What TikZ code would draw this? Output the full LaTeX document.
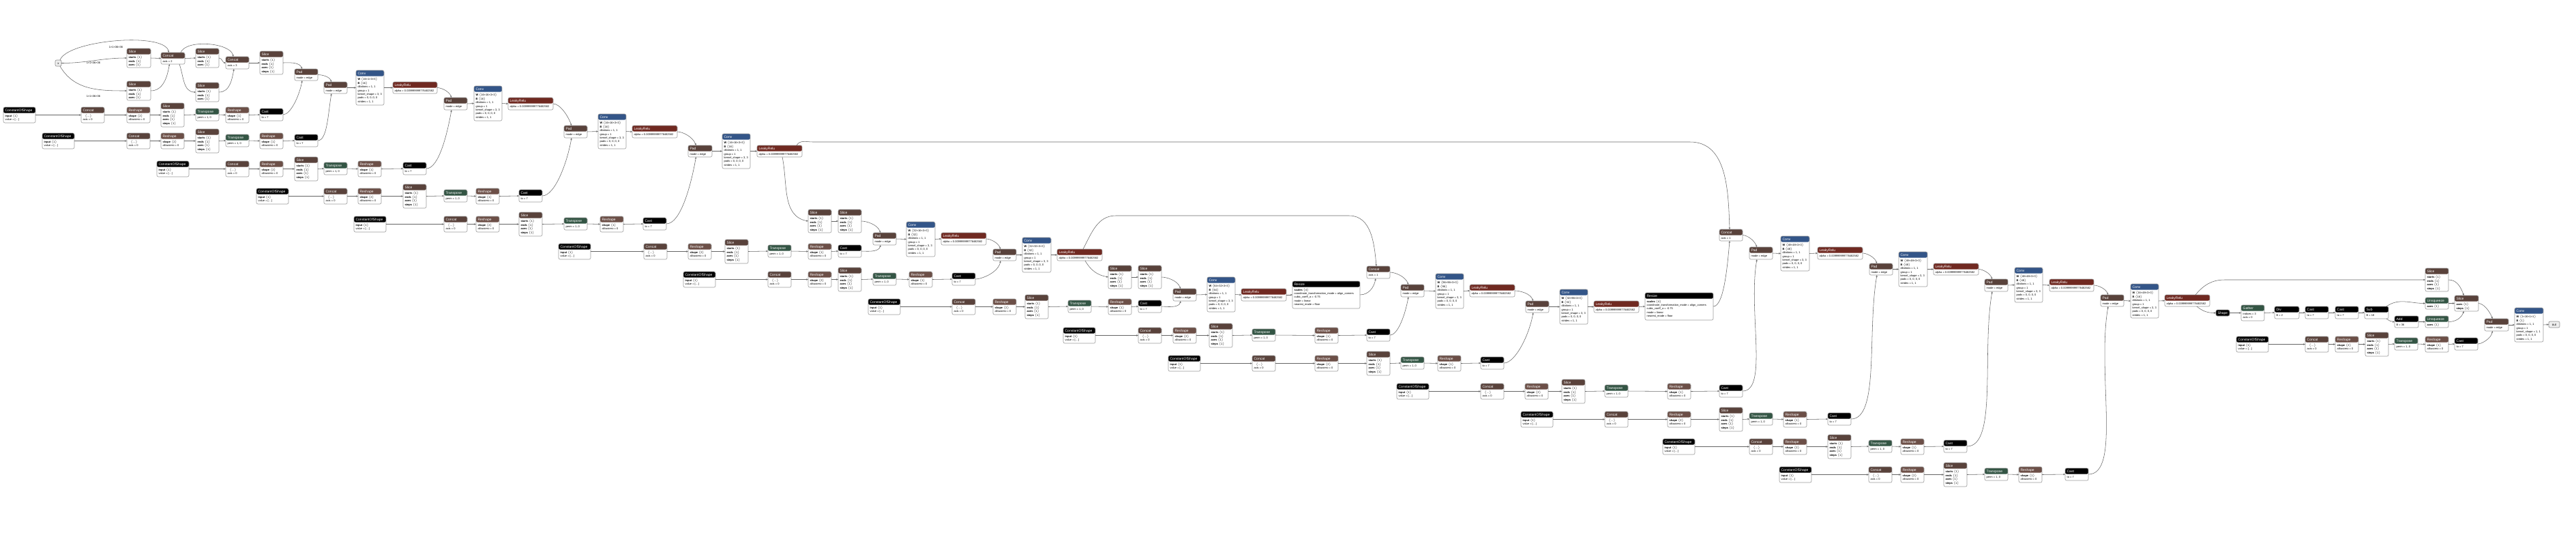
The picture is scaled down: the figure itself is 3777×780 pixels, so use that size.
\documentclass[tikz,border=0pt]{standalone}
\usepackage{fontspec}
\setmainfont{Liberation Sans}
\usetikzlibrary{arrows.meta}
\definecolor{cLayer}{RGB}{51,85,136}
\definecolor{cAct}{RGB}{112,41,33}
\definecolor{cTensor}{RGB}{89,66,59}
\definecolor{cShape}{RGB}{108,79,71}
\definecolor{cTrans}{RGB}{51,85,68}
\definecolor{cIO}{RGB}{238,238,238}
\newcommand\lan{\ensuremath{\langle}}
\newcommand\ran{\ensuremath{\rangle}}
\newcommand\slthree{\textbf{starts} \lan1\ran\\\textbf{ends} \lan1\ran\\\textbf{axes} \lan1\ran}
\newcommand\slfour{\slthree\\\textbf{steps} \lan1\ran}
\newcommand\alphatxt{alpha = 0.009999999776482582}
\newcommand\convtxt[3]{\textbf{W} \lan#1\ran\\\textbf{B} \lan#2\ran\\dilations = 1, 1\\group = 1\\kernel\_shape = #3\\pads = 0, 0, 0, 0\\strides = 1, 1}
\newcommand\resizetxt{\textbf{scales} \lan4\ran\\coordinate\_transformation\_mode = align\_corners\\cubic\_coeff\_a = -0.75\\mode = linear\\nearest\_mode = floor}
\tikzset{
  opbox/.style={draw=black!40, line width=0.6pt, rounded corners=2.2pt, fill=white, inner sep=0pt, outer sep=0pt},
  iobox/.style={draw=black!45, line width=0.6pt, rounded corners=2pt, fill=cIO, inner sep=0pt, outer sep=0pt},
  hdr/.style={path picture={\fill[#1] (path picture bounding box.north west) rectangle ([yshift=-8.5pt]path picture bounding box.north east);}},
  optitle/.style={anchor=base west, inner sep=0pt, text=white, font=\fontsize{5}{6}\selectfont},
  opbody/.style={anchor=north west, inner sep=0pt, align=left, font=\fontsize{4}{5.3}\selectfont},
  edge/.style={draw=black!60, line width=0.55pt, -{Stealth[length=3pt,width=2.4pt]}},
  elabel/.style={font=\fontsize{4}{5}\selectfont, inner sep=0pt},
}
\newcommand\opnode[8]{%
  \pgfmathsetmacro\opw{(#4)-(#2)}\pgfmathsetmacro\oph{(#5)-(#3)}%
  \node[opbox, hdr=#6, minimum width=\opw pt, minimum height=\oph pt] (#1) at ({((#2)+(#4))/2},{((#3)+(#5))/2}) {};
  \node[optitle] (#1-t) at ([xshift=2.4pt,yshift=-6.1pt]#1.north west) {#7};
  \node[opbody] (#1-b) at ([xshift=2.4pt,yshift=-10.3pt]#1.north west) {\strut #8};
}
\newcommand\hnode[7]{%
  \pgfmathsetmacro\opw{(#4)-(#2)}\pgfmathsetmacro\oph{(#5)-(#3)}%
  \node[opbox, fill=#6, minimum width=\opw pt, minimum height=\oph pt] (#1) at ({((#2)+(#4))/2},{((#3)+(#5))/2}) {};
  \node[optitle, anchor=base] (#1-t) at ([yshift=-1.8pt]#1.center) {#7};
}
\newcommand\ionode[6]{%
  \pgfmathsetmacro\opw{(#4)-(#2)}\pgfmathsetmacro\oph{(#5)-(#3)}%
  \node[iobox, minimum width=\opw pt, minimum height=\oph pt] (#1) at ({((#2)+(#4))/2},{((#3)+(#5))/2}) {};
  \node[inner sep=0pt, anchor=base, font=\fontsize{4.5}{5}\selectfont] (#1-t) at ([yshift=-1.6pt]#1.center) {#6};
}
\newcommand\eSt[2]{\draw[edge] (#1.east) -- (#2.west);}
\newcommand\eDn[2]{\draw[edge] (#1.east) to[out=0,in=110,out looseness=0.6] ([xshift=-6pt]#2.north);}
\newcommand\eUp[2]{\draw[edge] (#1.east) to[out=0,in=-100,out looseness=0.5,in looseness=1] ([xshift=-6pt]#2.south);}
% chain: id, top y, x of ConstantOfShape, Concat, Reshape, Slice, Transpose, Reshape, Cast
\newcommand\chain[9]{%
  \opnode{#1cos}{#3}{#2}{#3+47}{#2+23}{black}{ConstantOfShape}{\textbf{input} \lan1\ran\\value = [\ldots]}
  \opnode{#1cc}{#4}{#2}{#4+34}{#2+23}{cTensor}{Concat}{\hspace{3pt}\lan\ldots\ran\\axis = 0}
  \opnode{#1r1}{#5}{#2}{#5+34}{#2+23}{cShape}{Reshape}{\textbf{shape} \lan2\ran\\allowzero = 0}
  \opnode{#1s}{#6}{#2-6}{#6+34}{#2+29}{cTensor}{Slice}{\slfour}
  \opnode{#1t}{#7}{#2+2}{#7+34}{#2+20}{cTrans}{Transpose}{perm = 1, 0}
  \opnode{#1r2}{#8}{#2}{#8+34}{#2+23}{cShape}{Reshape}{\textbf{shape} \lan1\ran\\allowzero = 0}
  \opnode{#1ca}{#9}{#2+2}{#9+34}{#2+20}{black}{Cast}{to = 7}
  \eSt{#1cos}{#1cc}\eSt{#1cc}{#1r1}\eSt{#1r1}{#1s}\eSt{#1s}{#1t}\eSt{#1t}{#1r2}\eSt{#1r2}{#1ca}
}
\begin{document}
\begin{tikzpicture}[x=1pt,y=-1pt]
\fill[white] (0,0) rectangle (3777,780);
\useasboundingbox (0,0) rectangle (3777,780);
% ---------- input block ----------
\ionode{x}{81}{88}{90}{97}{x}
\opnode{sA}{186}{71}{221}{99}{cTensor}{Slice}{\slthree}
\opnode{sB}{186}{119}{221}{147}{cTensor}{Slice}{\slthree}
\opnode{cA}{236}{77}{271}{94}{cTensor}{Concat}{axis = 2}
\opnode{sC}{287}{71}{321}{99}{cTensor}{Slice}{\slthree}
\opnode{sD}{287}{121}{321}{149}{cTensor}{Slice}{\slthree}
\opnode{cB}{331}{83}{365}{101}{cTensor}{Concat}{axis = 3}
\opnode{sE}{381}{75}{415}{109}{cTensor}{Slice}{\slfour}
% ---------- main chain ----------
\opnode{pad1}{432}{101}{466}{118}{cTensor}{Pad}{mode = edge}
\opnode{pad2}{475}{120}{509}{137}{cTensor}{Pad}{mode = edge}
\opnode{conv1}{522}{103}{563}{154}{cLayer}{Conv}{\convtxt{16×1×3×3}{16}{3, 3}}
\opnode{lr1}{576}{120}{641}{137}{cAct}{LeakyRelu}{\alphatxt}
\opnode{pad3}{651}{143}{685}{161}{cTensor}{Pad}{mode = edge}
\opnode{conv2}{695}{126}{736}{177}{cLayer}{Conv}{\convtxt{16×16×3×3}{16}{3, 3}}
\opnode{lr2}{745}{143}{811}{161}{cAct}{LeakyRelu}{\alphatxt}
\opnode{pad4}{827}{184}{861}{202}{cTensor}{Pad}{mode = edge}
\opnode{conv3}{877}{167}{918}{218}{cLayer}{Conv}{\convtxt{16×16×3×3}{16}{3, 3}}
\opnode{lr3}{927}{184}{993}{202}{cAct}{LeakyRelu}{\alphatxt}
\opnode{pad5}{1009}{213}{1044}{230}{cTensor}{Pad}{mode = edge}
\opnode{conv4}{1059}{196}{1100}{247}{cLayer}{Conv}{\convtxt{16×16×3×3}{16}{3, 3}}
\opnode{lr4}{1110}{213}{1176}{230}{cAct}{LeakyRelu}{\alphatxt}
\opnode{s6}{1185}{307}{1219}{341}{cTensor}{Slice}{\slfour}
\opnode{s7}{1229}{307}{1263}{341}{cTensor}{Slice}{\slfour}
\opnode{pad6}{1280}{341}{1314}{359}{cTensor}{Pad}{mode = edge}
\opnode{conv5}{1329}{325}{1371}{376}{cLayer}{Conv}{\convtxt{32×16×3×3}{32}{3, 3}}
\opnode{lr5}{1380}{341}{1446}{359}{cAct}{LeakyRelu}{\alphatxt}
\opnode{pad7}{1456}{365}{1490}{382}{cTensor}{Pad}{mode = edge}
\opnode{conv6}{1499}{348}{1541}{399}{cLayer}{Conv}{\convtxt{32×32×3×3}{32}{3, 3}}
\opnode{lr6}{1550}{365}{1616}{382}{cAct}{LeakyRelu}{\alphatxt}
\opnode{s8}{1625}{389}{1659}{423}{cTensor}{Slice}{\slfour}
\opnode{s9}{1669}{389}{1703}{423}{cTensor}{Slice}{\slfour}
\opnode{pad8}{1720}{423}{1754}{441}{cTensor}{Pad}{mode = edge}
\opnode{conv7}{1770}{406}{1811}{457}{cLayer}{Conv}{\convtxt{64×32×3×3}{64}{3, 3}}
\opnode{lr7}{1820}{423}{1886}{441}{cAct}{LeakyRelu}{\alphatxt}
\opnode{rs1}{1895}{412}{1994}{452}{black}{Resize}{\resizetxt}
\opnode{cc1}{2004}{390}{2038}{408}{cTensor}{Concat}{axis = 1}
\opnode{pad9}{2054}{417}{2088}{435}{cTensor}{Pad}{mode = edge}
\opnode{conv8}{2105}{401}{2146}{452}{cLayer}{Conv}{\convtxt{96×96×3×3}{96}{3, 3}}
\opnode{lr8}{2155}{417}{2221}{435}{cAct}{LeakyRelu}{\alphatxt}
\opnode{pad10}{2237}{441}{2271}{458}{cTensor}{Pad}{mode = edge}
\opnode{conv9}{2287}{424}{2328}{475}{cLayer}{Conv}{\convtxt{32×96×3×3}{32}{3, 3}}
\opnode{lr9}{2337}{441}{2403}{458}{cAct}{LeakyRelu}{\alphatxt}
\opnode{rs2}{2412}{429}{2512}{469}{black}{Resize}{\resizetxt}
\opnode{cc2}{2521}{336}{2555}{353}{cTensor}{Concat}{axis = 1}
\opnode{pad11}{2565}{362}{2599}{380}{cTensor}{Pad}{mode = edge}
\opnode{conv10}{2611}{346}{2653}{397}{cLayer}{Conv}{\convtxt{48×48×3×3}{48}{3, 3}}
\opnode{lr10}{2665}{362}{2731}{380}{cAct}{LeakyRelu}{\alphatxt}
\opnode{pad12}{2741}{386}{2775}{403}{cTensor}{Pad}{mode = edge}
\opnode{conv11}{2784}{369}{2826}{420}{cLayer}{Conv}{\convtxt{48×48×3×3}{48}{3, 3}}
\opnode{lr11}{2835}{386}{2901}{403}{cAct}{LeakyRelu}{\alphatxt}
\opnode{pad13}{2910}{409}{2944}{427}{cTensor}{Pad}{mode = edge}
\opnode{conv12}{2954}{392}{2995}{443}{cLayer}{Conv}{\convtxt{48×48×3×3}{48}{3, 3}}
\opnode{lr12}{3005}{409}{3070}{427}{cAct}{LeakyRelu}{\alphatxt}
\opnode{pad14}{3080}{432}{3114}{449}{cTensor}{Pad}{mode = edge}
\opnode{conv13}{3124}{416}{3165}{466}{cLayer}{Conv}{\convtxt{16×48×3×3}{16}{3, 3}}
\opnode{lr13}{3174}{432}{3240}{449}{cAct}{LeakyRelu}{\alphatxt}
\hnode{shape}{3249}{454}{3269}{463}{black}{Shape}
\opnode{gather}{3286}{447}{3320}{470}{cTrans}{Gather}{indices = 3\\axis = 0}
\opnode{div}{3335}{449}{3371}{467}{black}{Div}{B = 2}
\opnode{cast1}{3380}{449}{3414}{467}{black}{Cast}{to = 7}
\opnode{cast2}{3424}{449}{3458}{467}{black}{Cast}{to = 7}
\opnode{sub}{3467}{449}{3502}{467}{black}{Sub}{B = 18}
\opnode{add}{3511}{463}{3546}{480}{black}{Add}{B = 36}
\opnode{sT}{3556}{393}{3590}{427}{cTensor}{Slice}{\slfour}
\opnode{u1}{3556}{436}{3590}{453}{cTrans}{Unsqueeze}{\textbf{axes} \lan1\ran}
\opnode{u2}{3556}{463}{3590}{480}{cTrans}{Unsqueeze}{\textbf{axes} \lan1\ran}
\opnode{sF}{3599}{433}{3634}{456}{cTensor}{Slice}{\textbf{axes} \lan1\ran\\\textbf{steps} \lan1\ran}
\opnode{padF}{3643}{467}{3678}{485}{cTensor}{Pad}{mode = edge}
\opnode{convF}{3687}{451}{3729}{501}{cLayer}{Conv}{\convtxt{1×16×1×1}{1}{1, 1}}
\ionode{out}{3737}{471}{3753}{480}{out}
% ---------- pad-amount chains ----------
\chain{ca}{157}{5}{119}{186}{236}{287}{331}{381}
\chain{cb}{195}{62}{186}{236}{287}{331}{381}{432}
\chain{cc}{236}{230}{331}{381}{432}{475}{525}{591}
\chain{cd}{276}{376}{475}{525}{591}{651}{698}{761}
\chain{ce}{317}{519}{651}{698}{761}{827}{880}{943}
\chain{cf}{357}{819}{944}{1009}{1063}{1126}{1185}{1229}
\chain{cg}{398}{1002}{1126}{1185}{1229}{1280}{1333}{1396}
\chain{ch}{438}{1273}{1396}{1456}{1503}{1566}{1625}{1669}
\chain{ci}{480}{1559}{1669}{1720}{1773}{1836}{1928}{2004}
\chain{cj}{521}{1713}{1836}{1928}{2004}{2054}{2108}{2171}
\chain{ck}{562}{2048}{2171}{2236}{2290}{2353}{2445}{2521}
\chain{cl}{603}{2230}{2353}{2445}{2521}{2565}{2615}{2680}
\chain{cm}{643}{2438}{2565}{2615}{2680}{2740}{2787}{2850}
\chain{cn}{684}{2609}{2740}{2787}{2850}{2910}{2960}{3028}
\chain{co}{493}{3279}{3380}{3424}{3468}{3511}{3556}{3599}
% ---------- edges: input block ----------
\draw[edge] ([xshift=-2pt]x.north east) to[out=70,in=100,looseness=0.5] ([xshift=-6pt]cA.north);
\draw[edge] (x.east) to[out=0,in=180] (sA.west);
\draw[edge] ([xshift=-2pt]x.south east) to[out=-60,in=180] (sB.west);
\node[elabel] (l1) at (170,69) {1×1×36×36};
\node[elabel] (l2) at (137,92) {1×1×36×36};
\node[elabel] (l3) at (137,141) {1×1×36×36};
\eSt{sA}{cA}
\draw[edge] (sB.east) to[out=0,in=-100] ([xshift=-5pt]cA.south);
\eSt{cA}{sC}
\draw[edge] ([xshift=-8pt]cA.south east) to[out=-70,in=180] (sD.west);
\draw[edge] ([xshift=-6pt]cA.north east) to[out=70,in=100,looseness=0.7] ([xshift=-6pt]cB.north);
\draw[edge] (sC.east) to[out=0,in=180] (cB.west);
\draw[edge] (sD.east) to[out=0,in=-100] ([xshift=-5pt]cB.south);
\eSt{cB}{sE}
% ---------- edges: main chain ----------
\eDn{sE}{pad1}\eUp{caca}{pad1}
\eDn{pad1}{pad2}\eUp{cbca}{pad2}
\eSt{pad2}{conv1}\eSt{conv1}{lr1}
\eDn{lr1}{pad3}\eUp{ccca}{pad3}
\eSt{pad3}{conv2}\eSt{conv2}{lr2}
\eDn{lr2}{pad4}\eUp{cdca}{pad4}
\eSt{pad4}{conv3}\eSt{conv3}{lr3}
\eDn{lr3}{pad5}\eUp{ceca}{pad5}
\eSt{pad5}{conv4}\eSt{conv4}{lr4}
\draw[edge] ([xshift=4pt]lr4.south) to[out=-78,in=170] (s6.west);
\eSt{s6}{s7}
\eDn{s7}{pad6}\eUp{cfca}{pad6}
\eSt{pad6}{conv5}\eSt{conv5}{lr5}
\eDn{lr5}{pad7}\eUp{cgca}{pad7}
\eSt{pad7}{conv6}\eSt{conv6}{lr6}
\draw[edge] ([xshift=8pt]lr6.south) to[out=-60,in=170] (s8.west);
\eSt{s8}{s9}
\eDn{s9}{pad8}\eUp{chca}{pad8}
\eSt{pad8}{conv7}\eSt{conv7}{lr7}\eSt{lr7}{rs1}
\draw[edge] (rs1.east) to[out=0,in=-100] ([xshift=-4pt]cc1.south);
\eDn{cc1}{pad9}\eUp{cica}{pad9}
\eSt{pad9}{conv8}\eSt{conv8}{lr8}
\eDn{lr8}{pad10}\eUp{cjca}{pad10}
\eSt{pad10}{conv9}\eSt{conv9}{lr9}\eSt{lr9}{rs2}
\draw[edge] (rs2.east) to[out=0,in=-95,out looseness=0.4] ([xshift=-2pt]cc2.south);
\eDn{cc2}{pad11}\eUp{ckca}{pad11}
\eSt{pad11}{conv10}\eSt{conv10}{lr10}
\eDn{lr10}{pad12}\eUp{clca}{pad12}
\eSt{pad12}{conv11}\eSt{conv11}{lr11}
\eDn{lr11}{pad13}\eUp{cmca}{pad13}
\eSt{pad13}{conv12}\eSt{conv12}{lr12}
\eDn{lr12}{pad14}\eUp{cnca}{pad14}
\eSt{pad14}{conv13}\eSt{conv13}{lr13}
% skip connections
\coordinate (k1) at (1192,208);
\coordinate (k2) at (2478,208);
\draw[edge] ([xshift=-8pt]lr4.north east) to[out=60,in=180] (k1) -- (k2) to[out=0,in=92] ([xshift=-2pt]cc2.north);
\coordinate (k3) at (1636,316);
\coordinate (k4) at (1978,316);
\draw[edge] ([xshift=5pt]lr6.north) to[out=62,in=180] (k3) -- (k4) to[out=0,in=95] ([xshift=-3pt]cc1.north);
\coordinate (k5) at (3262,410);
\draw[edge] ([xshift=12pt]lr13.north) to[out=50,in=180] (k5) -- (sT.west);
% ---------- tail ----------
\draw[edge] ([xshift=14pt]lr13.south) to[out=-40,in=180] (shape.west);
\eSt{shape}{gather}\eSt{gather}{div}\eSt{div}{cast1}\eSt{cast1}{cast2}\eSt{cast2}{sub}
\draw[edge] ([xshift=-3pt]sub.north east) to[out=35,in=180] (u1.west);
\draw[edge] ([xshift=-3pt]sub.south east) to[out=-35,in=180] (add.west);
\eSt{add}{u2}
\eSt{u1}{sF}
\draw[edge] (u2.east) to[out=0,in=-110] ([xshift=-4pt]sF.south);
\draw[edge] (sT.east) to[out=0,in=110] ([xshift=-4pt]sF.north);
\eDn{sF}{padF}\eUp{coca}{padF}
\eSt{padF}{convF}\eSt{convF}{out}
\end{tikzpicture}
\end{document}
